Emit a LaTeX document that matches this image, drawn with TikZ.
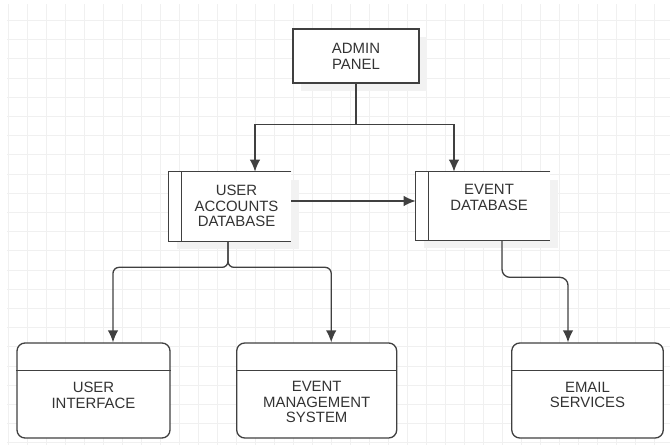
\documentclass[tikz,border=0pt]{standalone}
\usepackage{fontspec}
\setmainfont{Liberation Sans}
\usetikzlibrary{shadows,arrows.meta}

\begin{document}
\begin{tikzpicture}[
    x=0.02cm, y=-0.02cm,
    gridline/.style={draw=black!6,line width=0.5pt},
    line/.style={draw=black!75,line width=0.75pt},
    box/.style={rectangle,line,fill=white,inner sep=0pt},
    store/.style={rectangle,fill=white,inner sep=0pt},
    lane/.style={box,rounded corners=0.16cm},
    label/.style={align=center,inner sep=0pt,text=black!80,font=\fontsize{8.5}{9}\selectfont},
    shadowed/.style={drop shadow={shadow xshift=0.16cm,shadow yshift=-0.16cm,fill=black!5,opacity=1}},
    conn/.style={line,->},
    >={Latex[length=0.24cm,width=0.21cm]}
]
    \useasboundingbox (0,0) rectangle (670,445);

    % Grid
    \foreach \gx in {0,...,34}
        \draw[gridline] ({8.5+19*\gx},4) -- ({8.5+19*\gx},445);
    \foreach \gy in {0,...,22}
        \draw[gridline] (7,{20.4+19.2*\gy}) -- (670,{20.4+19.2*\gy});

    % Admin panel
    \node[box,shadowed,label,minimum width=2.52cm,minimum height=1.08cm] (admin) at (356,56) {ADMIN\\PANEL};

    % Data stores
    \node[store,shadowed,minimum width=2.44cm,minimum height=1.38cm] (uadb) at (230,206.5) {};
    \node[store,shadowed,minimum width=2.68cm,minimum height=1.36cm] (evdb) at (483,206) {};
    \foreach \n in {uadb,evdb} {
        \draw[line] (\n.north east) -- (\n.north west) -- (\n.south west) -- (\n.south east);
        \draw[line] ([xshift=0.25cm]\n.north west) -- ([xshift=0.25cm]\n.south west);
    }
    \node[label] (uadb-text) at (236.5,206) {USER\\ACCOUNTS\\DATABASE};
    \node[label] (evdb-text) at (489,197.5) {EVENT\\DATABASE};

    % Services
    \node[lane,minimum width=3.06cm,minimum height=1.9cm] (ui) at (93.5,390.5) {};
    \node[lane,minimum width=3.2cm,minimum height=1.9cm] (ems) at (316.7,390.5) {};
    \node[lane,minimum width=3.03cm,minimum height=1.9cm] (email) at (587.5,390.5) {};
    \foreach \n in {ui,ems,email}
        \draw[line] ([yshift=-0.56cm]\n.north west) -- ([yshift=-0.56cm]\n.north east);
    \node[label] (ui-text) at (93.5,395) {USER\\INTERFACE};
    \node[label] (ems-text) at (316.7,402) {EVENT\\MANAGEMENT\\SYSTEM};
    \node[label] (email-text) at (587.5,395) {EMAIL\\SERVICES};

    % Connectors
    \draw[conn] (admin.south) -- ++(0,41) -| ([xshift=0.5cm]uadb.north);
    \draw[conn] (admin.south) -- ++(0,41) -| ([xshift=-0.58cm]evdb.north);
    \draw[conn] ([yshift=0.11cm]uadb.east) -- ([yshift=0.11cm]uadb.east -| evdb.west);
    \draw[conn,rounded corners=0.12cm] ([xshift=-0.04cm]uadb.south) -- ++(0,26) -| ([xshift=0.39cm]ui.north);
    \draw[conn,rounded corners=0.12cm] ([xshift=-0.04cm]uadb.south) -- ++(0,26) -| ([xshift=0.29cm]ems.north);
    \draw[conn,rounded corners=0.16cm] ([xshift=0.38cm]evdb.south) -- ++(0,37) -| ([xshift=-0.39cm]email.north);
\end{tikzpicture}
\end{document}
